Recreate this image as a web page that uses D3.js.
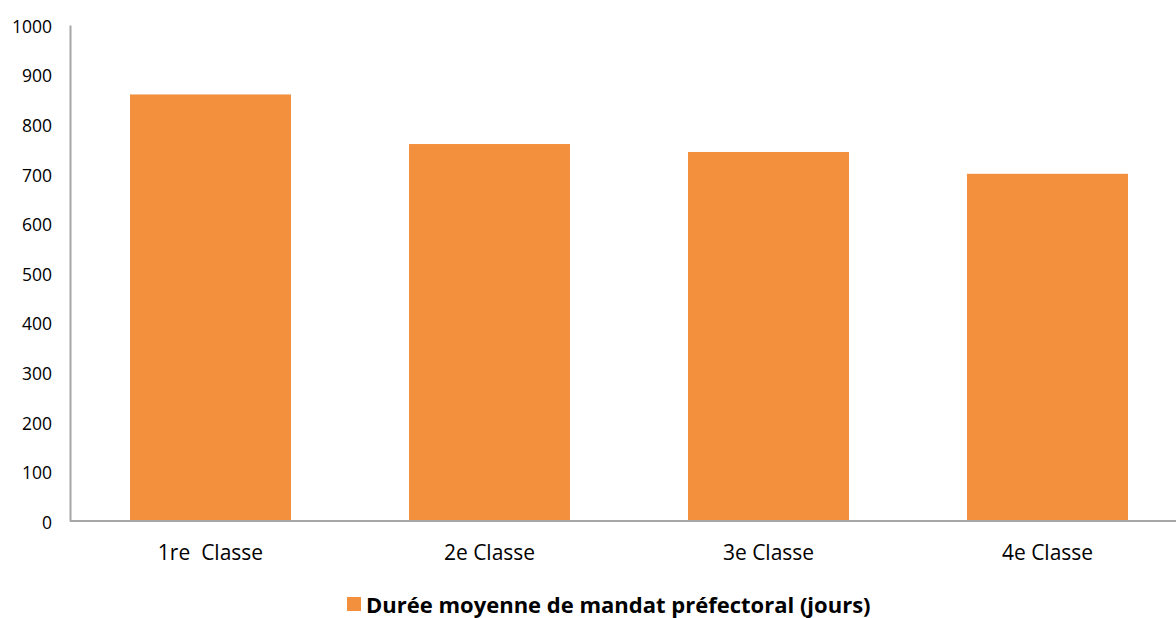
<!DOCTYPE html>
<html><head><meta charset="utf-8">
<script src="https://cdn.jsdelivr.net/npm/d3@7"></script>
<style>body{margin:0;background:#fff}svg{display:block}</style>
</head><body>
<svg id="c" width="1176" height="618"></svg>
<script>
const categories = ["1re  Classe", "2e Classe", "3e Classe", "4e Classe"];
const values = [860, 760, 744, 700];
const yTicks = [0, 100, 200, 300, 400, 500, 600, 700, 800, 900, 1000];
const seriesName = "Durée moyenne de mandat préfectoral (jours)";
const color = "#F2903D";

const svg = d3.select("#c");
const font = "'Open Sans', sans-serif";
const x = d3.scaleBand().domain(categories).range([71, 1187]).paddingInner(0.423).paddingOuter(0.2115);
const y = d3.scaleLinear().domain([0, 1000]).range([521, 25]);

svg.append("g").selectAll("rect").data(values).join("rect")
  .attr("x", (d, i) => x(categories[i]))
  .attr("width", x.bandwidth())
  .attr("y", d => y(d))
  .attr("height", d => y(0) - y(d))
  .attr("fill", color);

// y axis
const ya = svg.append("g").attr("transform", "translate(70,0)")
  .call(d3.axisLeft(y).tickValues(yTicks).tickSize(0).tickPadding(18).tickFormat(d3.format("d")));
ya.select(".domain").attr("stroke", "#a6a6a6").attr("stroke-width", 2);
ya.selectAll("text").attr("font-family", font).attr("font-size", 17.5).attr("fill", "#000")
  .attr("dy", "0.42em");

// x axis
const xa = svg.append("g").attr("transform", "translate(0,521)")
  .call(d3.axisBottom(x).tickSize(0).tickPadding(0));
xa.select(".domain").attr("d", "M70,0H1176").attr("stroke", "#a6a6a6").attr("stroke-width", 2);
xa.selectAll("text").attr("font-family", font).attr("font-size", 21).attr("fill", "#000")
  .attr("y", 39).attr("dy", null).style("white-space", "pre");

// legend
const lg = svg.append("g");
lg.append("rect").attr("x", 347).attr("y", 597).attr("width", 14).attr("height", 14).attr("fill", color);
lg.append("text").attr("x", 366).attr("y", 613).text(seriesName)
  .attr("font-family", font).attr("font-size", 22).attr("font-weight", "bold").attr("fill", "#000");
</script>
</body></html>
